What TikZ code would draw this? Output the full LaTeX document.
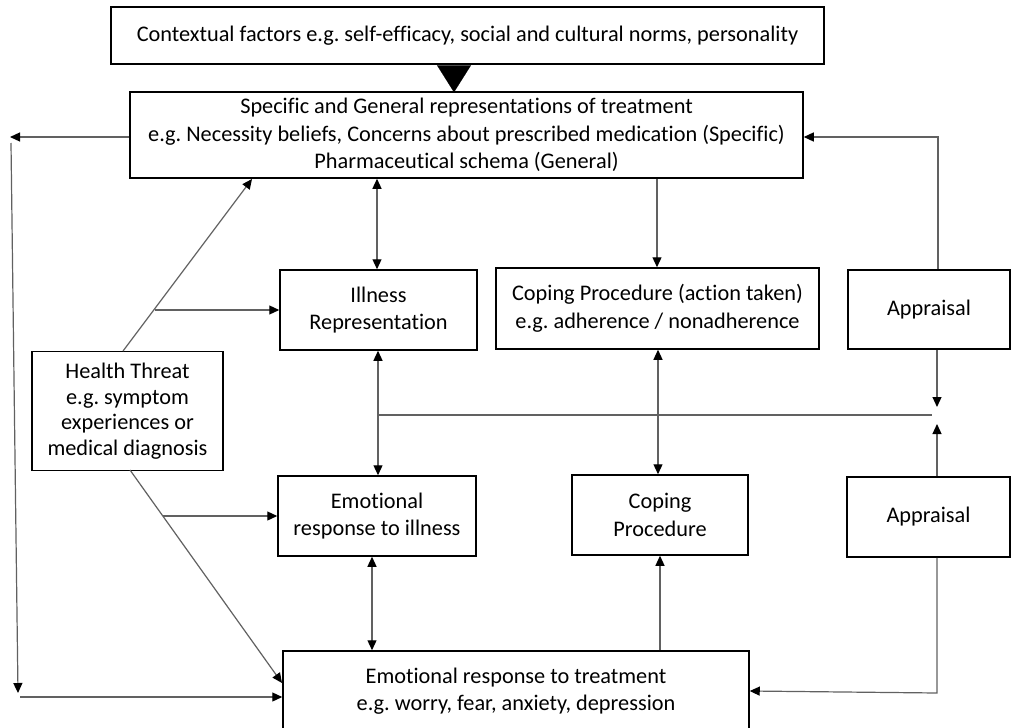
\documentclass[tikz,border=0pt]{standalone}
\usepackage{fontspec}
\setmainfont{Carlito}[Ligatures=NoCommon]
\usetikzlibrary{arrows.meta}
\frenchspacing
\tikzset{
  box/.style={draw=black, line width=1.5pt, fill=white, inner sep=0pt, align=center,
    font=\fontsize{22.3}{27.5}\selectfont},
  conn/.style={draw=black!62, line width=1.2pt},
  tip/.style={-{Triangle[length=10pt,width=9pt,black]}},
  dtip/.style={{Triangle[length=10pt,width=9pt,black]}-{Triangle[length=10pt,width=9pt,black]}},
}
\begin{document}
\begin{tikzpicture}[x=1pt,y=-1pt]
\useasboundingbox (0,0) rectangle (1012,728);
\fill[white] (0,0) rectangle (1012,728);
\clip (0,0) rectangle (1012,728);

% nodes
\node[box, minimum width=713pt, minimum height=57pt] (top) at (467.5,35.5)
  {Contextual factors e.g. self-efficacy, social and cultural norms, personality};
\node[box, minimum width=673pt, minimum height=86pt] (spec) at (466.5,135)
  {Specific and General representations of treatment\\
   e.g. Necessity beliefs, Concerns about prescribed medication (Specific)\\
   Pharmaceutical schema (General)};
\node[box, minimum width=197pt, minimum height=80pt] (ill) at (378.5,310)
  {Illness\\Representation};
\node[box, minimum width=323pt, minimum height=81pt] (cop1) at (657.5,308.5)
  {Coping Procedure (action taken)\\e.g. adherence / nonadherence};
\node[box, minimum width=162pt, minimum height=79pt] (app1) at (929,309.5)
  {Appraisal};
\node[box, minimum width=191pt, minimum height=119pt,
  font=\fontsize{22.3}{25.5}\selectfont] (ht) at (127.5,411)
  {Health Threat\\e.g. symptom\\experiences or\\medical diagnosis};
\node[box, minimum width=198pt, minimum height=80pt] (emi) at (377,516)
  {Emotional\\response to illness};
\node[box, minimum width=176pt, minimum height=80pt] (cop2) at (660,515)
  {Coping\\Procedure};
\node[box, minimum width=163pt, minimum height=80pt] (app2) at (928.5,517)
  {Appraisal};
\node[box, minimum width=466pt, minimum height=80pt] (emt) at (516,691)
  {Emotional response to treatment\\e.g. worry, fear, anxiety, depression};

% free points
\coordinate (L1) at (10,137);
\coordinate (L2) at (11,143);
\coordinate (L3) at (18,693);
\coordinate (L4) at (20,697);
\coordinate (H1) at (123,351);
\coordinate (S1) at (252,179);
\coordinate (B1) at (155,310);
\coordinate (H2) at (130,470);
\coordinate (E1) at (282,683);
\coordinate (B2) at (163,516);
\coordinate (R1) at (938,137);
\coordinate (J1) at (937,407);
\coordinate (J2) at (937,424);
\coordinate (JL) at (378,415);
\coordinate (JR) at (932,415);
\coordinate (R2) at (937,693);

% big triangle
\draw[-{Triangle[length=27pt,width=34pt,black]}, line width=0.1pt, draw=white]
  (top.south -| 454,0) -- ([yshift=-1pt]spec.north -| 454,0);

% left loop
\draw[conn, tip] (spec.west |- L1) -- (L1);
\draw[conn, tip] (L2) -- (L3);
\draw[conn, tip] (L4) -- (emt.west |- L4);

% health threat links
\draw[conn, tip] (H1) -- (S1);
\draw[conn, tip] (B1) -- (ill.west |- B1);
\draw[conn, tip] (H2) -- (E1);
\draw[conn, tip] (B2) -- (emi.west |- B2);

% vertical links
\draw[conn, dtip] (spec.south -| 377,0) -- (ill.north -| 377,0);
\draw[conn, tip] (spec.south -| 657,0) -- (cop1.north -| 657,0);
\draw[conn, dtip] (ill.south -| JL) -- (emi.north -| JL);
\draw[conn, dtip] (cop1.south -| 658,0) -- (cop2.north -| 658,0);
\draw[conn, dtip] (emi.south -| 372,0) -- (emt.north -| 372,0);
\draw[conn, tip] (emt.north -| cop2) -- (cop2.south);

% right side
\draw[conn, tip] (app1.north -| R1) -- (R1) -- (spec.east |- R1);
\draw[conn, tip] (app1.south -| J1) -- (J1);
\draw[conn, tip] (app2.north -| J2) -- (J2);
\draw[conn] (JL) -- (JR);
\draw[conn, tip] (app2.south -| R2) -- (R2) -- (emt.east |- 0,691);
\end{tikzpicture}
\end{document}
